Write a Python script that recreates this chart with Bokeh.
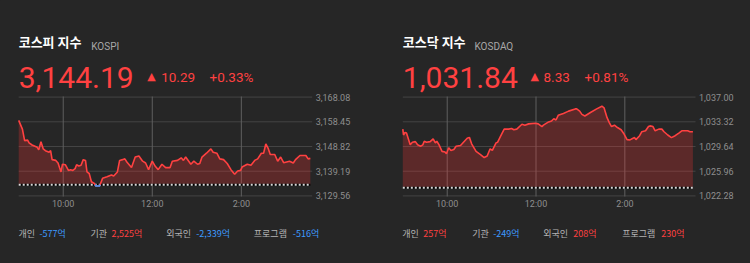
import numpy as np
from bokeh.plotting import figure
from bokeh.models import Range1d
from bokeh.core.properties import value
from bokeh.embed import file_html
from bokeh.resources import INLINE

# ---------------- data ----------------
flow_labels = ["개인", "기관", "외국인", "프로그램"]
time_ticks = [60, 180, 300]            # minutes after 09:00
time_tick_labels = ["10:00", "12:00", "2:00"]

kospi_name = "코스피 지수"
kospi_code = "KOSPI"
kospi_price = 3144.19
kospi_change = 10.29
kospi_pct = 0.33
kospi_yticks = [3129.56, 3139.19, 3148.82, 3158.45, 3168.08]
kospi_flows = [-577, 2525, -2339, -516]
kospi_min = [0, 5, 8, 12, 14, 18, 25, 27, 30, 33, 36, 41, 43, 45, 50, 53, 57, 59, 63, 67,
             70, 73, 76, 78, 81, 84, 87, 90, 92, 95, 98, 102, 104, 109, 113, 119, 125, 128,
             133, 136, 140, 143, 146, 152, 157, 162, 167, 171, 175, 180, 184, 188, 193, 198,
             204, 207, 214, 219, 222, 225, 232, 236, 241, 244, 247, 253, 259, 262, 267, 271,
             276, 281, 286, 291, 295, 299, 301, 308, 313, 318, 322, 327, 330, 333, 336, 339,
             345, 349, 353, 357, 365, 370, 373, 379, 387, 390, 393]
kospi_val = [3159.0, 3155.6, 3151.1, 3151.3, 3150.2, 3149.4, 3148.5, 3147.5, 3150.7, 3147.9,
             3147.2, 3146.6, 3147.2, 3143.7, 3143.4, 3142.4, 3138.9, 3141.9, 3141.7, 3139.5,
             3139.8, 3139.5, 3140.2, 3141.7, 3141.2, 3141.5, 3143.7, 3143.4, 3138.9, 3138.3,
             3135.1, 3134.4, 3133.4, 3133.4, 3136.4, 3137.0, 3137.7, 3137.3, 3138.9, 3143.4,
             3143.7, 3144.0, 3142.7, 3140.6, 3144.7, 3145.1, 3143.1, 3142.4, 3139.8, 3143.1,
             3141.1, 3139.8, 3141.9, 3140.6, 3140.6, 3143.1, 3143.4, 3144.4, 3143.4, 3144.7,
             3141.9, 3143.1, 3141.9, 3142.2, 3144.7, 3146.2, 3147.9, 3146.6, 3146.2, 3144.0,
             3143.7, 3142.2, 3139.8, 3138.0, 3139.3, 3139.5, 3140.8, 3141.9, 3141.5, 3143.4,
             3144.0, 3146.2, 3146.2, 3149.8, 3148.2, 3145.7, 3145.7, 3143.1, 3144.7, 3142.5,
             3143.1, 3142.4, 3143.7, 3145.3, 3145.3, 3144.0, 3144.19]

kosdaq_name = "코스닥 지수"
kosdaq_code = "KOSDAQ"
kosdaq_price = 1031.84
kosdaq_change = 8.33
kosdaq_pct = 0.81
kosdaq_yticks = [1022.28, 1025.96, 1029.64, 1033.32, 1037.00]
kosdaq_flows = [257, -249, 208, 230]
kosdaq_min = [0, 1, 3, 5, 10, 13, 17, 20, 24, 27, 29, 32, 37, 41, 44, 46, 49, 53, 57, 59, 62,
              65, 69, 72, 78, 82, 87, 90, 93, 99, 105, 110, 114, 118, 121, 126, 128, 132, 137,
              143, 147, 150, 154, 161, 165, 170, 179, 183, 188, 190, 197, 201, 204, 207, 210,
              217, 224, 233, 235, 239, 242, 246, 253, 262, 269, 272, 276, 279, 282, 286, 290,
              295, 299, 303, 307, 311, 313, 315, 320, 323, 328, 332, 334, 338, 341, 346, 350,
              353, 358, 363, 368, 373, 377, 385, 388, 392]
kosdaq_val = [1032.23, 1031.35, 1031.73, 1031.64, 1029.89, 1030.27, 1030.37, 1029.89, 1029.68,
              1029.89, 1030.42, 1030.27, 1030.37, 1030.77, 1030.18, 1030.42, 1029.89, 1028.91,
              1028.81, 1028.57, 1029.45, 1029.06, 1029.20, 1029.68, 1029.79, 1030.27, 1030.86,
              1031.00, 1030.04, 1028.91, 1028.43, 1027.99, 1028.22, 1029.30, 1029.06, 1030.18,
              1030.27, 1031.15, 1032.23, 1032.23, 1032.32, 1032.13, 1032.23, 1032.96, 1032.82,
              1033.01, 1033.11, 1033.01, 1032.61, 1032.82, 1033.30, 1033.44, 1033.78, 1033.59,
              1034.28, 1034.57, 1034.91, 1035.24, 1035.24, 1034.91, 1034.43, 1034.18, 1034.66,
              1035.24, 1035.64, 1035.39, 1033.93, 1033.20, 1032.61, 1032.82, 1032.47, 1032.13,
              1031.50, 1030.67, 1030.62, 1030.86, 1031.00, 1030.67, 1031.25, 1031.84, 1031.98,
              1032.61, 1032.71, 1032.61, 1031.98, 1032.23, 1032.23, 1031.84, 1031.35, 1030.96,
              1031.25, 1031.64, 1031.98, 1031.98, 1031.84, 1031.84]

# ---------------- style / layout ----------------
BG = "#262626"
RED = "#ff4141"
BLUE = "#3d9bff"
KR = "Noto Sans CJK KR"
NUM = "Roboto"
W, H = 750, 263
T_END = 395.5                  # minutes at the right edge of each chart
CH_TOP, CH_BOT = 96, 196       # chart frame, page pixels

p = figure(width=W, height=H, output_backend="svg", toolbar_location=None,
           x_range=(0, W), y_range=(H, 0), x_axis_type=None, y_axis_type=None,
           min_border=0, background_fill_color=BG, border_fill_color=BG,
           outline_line_color=None)


def txt(x, y, s, size, color, font=KR, bold=False, baseline="middle", align="left", **kw):
    p.text(x=x, y=y, text=s, text_font=value(font), text_font_size=size,
           text_color=color, text_font_style="bold" if bold else "normal",
           text_baseline=baseline, text_align=align, **kw)


def split_at_base(x, y, base):
    xs, ys = [x[0]], [y[0]]
    for i in range(1, len(x)):
        y0, y1 = y[i - 1], y[i]
        if (y0 - base) * (y1 - base) < 0:
            t = (base - y0) / (y1 - y0)
            xs.append(x[i - 1] + t * (x[i] - x[i - 1]))
            ys.append(base)
        xs.append(x[i])
        ys.append(y[i])
    return np.array(xs, dtype=float), np.array(ys, dtype=float)


def panel(key, name, code, price, change, pct, yticks, flows, minutes, values,
          fl, fr, code_x, tri_x, chg_x, pct_x, flow_x):
    # scales for this chart: value range mapped onto the frame fl..fr / CH_TOP..CH_BOT
    pad = (yticks[-1] - yticks[0]) * 0.006
    lo, hi = yticks[0] - pad, yticks[-1] + pad
    kx = T_END / (fr - fl)
    ky = (hi - lo) / (CH_BOT - CH_TOP)
    xr, yr = "x_" + key, "y_" + key
    p.extra_x_ranges[xr] = Range1d(start=-fl * kx, end=(W - fl) * kx)
    p.extra_y_ranges[yr] = Range1d(start=lo - (H - CH_BOT) * ky, end=hi + CH_TOP * ky)
    R = dict(x_range_name=xr, y_range_name=yr)

    # grid
    p.segment(x0=0, x1=T_END, y0=yticks, y1=yticks, line_color="#444444", line_width=1, **R)
    p.segment(x0=time_ticks, x1=time_ticks, y0=lo, y1=hi, line_color="#5f5f5f",
              line_width=1, **R)

    # area + line
    base = round(price - change, 2)
    xs, ys = split_at_base(minutes, values, base)
    up = np.maximum(ys, base)
    dn = np.minimum(ys, base)
    p.varea(x=xs, y1=np.full_like(xs, base), y2=up, fill_color="#ff3333", fill_alpha=0.25, **R)
    p.varea(x=xs, y1=dn, y2=np.full_like(xs, base), fill_color=BLUE, fill_alpha=0.25, **R)
    p.line([minutes[0], minutes[-1]], [base, base], line_color="#000000", line_width=2, **R)
    p.line([minutes[0], minutes[-1]], [base, base], line_color="#d8d8d8", line_width=2,
           line_dash="2 2", **R)
    p.line(xs, ys, line_color=RED, line_width=1.6, **R)
    p.line(xs, np.where(ys <= base, ys, np.nan), line_color=BLUE, line_width=1.6, **R)

    # tick labels
    txt([fr + 3.5] * len(yticks), yticks, [f"{v:,.2f}" for v in yticks], "9px", "#8e8e8e",
        font=NUM, y_range_name=yr)
    txt(time_ticks, [CH_BOT + 7.5] * len(time_ticks), time_tick_labels, "9px", "#8e8e8e",
        font=NUM, align="center", x_range_name=xr)

    # header
    txt([fl], [40.5], [name], "13px", "#ffffff", bold=True)
    txt([code_x], [45.7], [code], "10px", "#a8a8a8", font=NUM, baseline="alphabetic")
    txt([fl], [76.7], [f"{price:,.2f}"], "30px", RED, font=NUM, baseline="alphabetic")
    txt([tri_x], [75.5], ["▲"], "11px", RED, font="DejaVu Sans", baseline="alphabetic")
    txt([chg_x], [76.7], [f"{change:,.2f}"], "13.5px", RED, font=NUM, baseline="alphabetic")
    txt([pct_x], [76.7], [f"+{pct:.2f}%"], "13.5px", RED, font=NUM, baseline="alphabetic")

    # footer
    for lab, val, fx in zip(flow_labels, flows, flow_x):
        txt([fx], [232.5], [lab], "9px", "#b4b4b4")
        txt([fx + 9 * len(lab) + 3], [232.5], [f"{val:,}억"], "9px",
            RED if val > 0 else BLUE)


panel("kospi", kospi_name, kospi_code, kospi_price, kospi_change, kospi_pct, kospi_yticks,
      kospi_flows, kospi_min, kospi_val, fl=18.2, fr=311.7,
      code_x=90.7, tri_x=146.7, chg_x=160.7, pct_x=209,
      flow_x=[18, 90, 165.7, 253.3])
panel("kosdaq", kosdaq_name, kosdaq_code, kosdaq_price, kosdaq_change, kosdaq_pct,
      kosdaq_yticks, kosdaq_flows, kosdaq_min, kosdaq_val, fl=402.3, fr=695,
      code_x=474, tri_x=530, chg_x=543, pct_x=584,
      flow_x=[401.7, 471.7, 542.7, 621.7])

html = file_html(p, INLINE)
html = html.replace("<head>", "<head><style>html,body{margin:0;background:#262626;}</style>", 1)
open("out.html", "w").write(html)
